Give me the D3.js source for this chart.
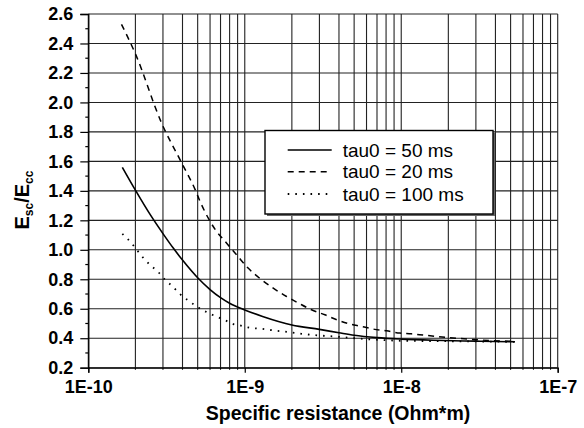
<!DOCTYPE html>
<html>
<head>
<meta charset="utf-8">
<script src="https://cdn.jsdelivr.net/npm/d3@7"></script>
<style>
  html, body { margin: 0; padding: 0; background: #fff; }
  svg { display: block; font-family: "Liberation Sans", Arial, Helvetica, sans-serif; }
</style>
</head>
<body>
<svg id="chart" width="584" height="428"></svg>
<script>
// Specific resistance (Ohm*m) sampled along each curve
const resist50 = [1.65e-10, 2.0e-10, 2.5e-10, 3.0e-10, 3.5e-10, 4.0e-10, 5.0e-10, 6.0e-10, 7.0e-10, 8.0e-10, 1.0e-9, 1.3e-9, 2.0e-9, 3.0e-9, 4.0e-9, 5.0e-9, 7.0e-9, 1.0e-8, 1.6e-8, 3.0e-8, 5.33e-8];
const ratio50  = [1.56, 1.405, 1.235, 1.11, 1.01, 0.93, 0.81, 0.73, 0.675, 0.637, 0.592, 0.548, 0.49, 0.46, 0.437, 0.42, 0.404, 0.394, 0.386, 0.38, 0.376];

const resist20 = [1.63e-10, 2.0e-10, 2.94e-10, 3.95e-10, 4.81e-10, 5.17e-10, 6.45e-10, 7.66e-10, 8.87e-10, 1.05e-9, 1.28e-9, 1.52e-9, 1.85e-9, 2.2e-9, 2.67e-9, 3.25e-9, 3.87e-9, 4.7e-9, 5.58e-9, 6.63e-9, 8.07e-9, 9.8e-9, 1.16e-8, 1.42e-8, 2.0e-8, 3.0e-8, 5.33e-8];
const ratio20  = [2.53, 2.33, 1.86, 1.59, 1.41, 1.33, 1.14, 1.045, 0.966, 0.876, 0.797, 0.74, 0.683, 0.639, 0.593, 0.559, 0.525, 0.496, 0.48, 0.462, 0.45, 0.435, 0.43, 0.42, 0.405, 0.39, 0.378];

const resist100 = [1.65e-10, 1.85e-10, 2.04e-10, 2.25e-10, 2.48e-10, 2.8e-10, 3.09e-10, 3.46e-10, 3.85e-10, 4.29e-10, 4.86e-10, 5.43e-10, 6.0e-10, 6.71e-10, 7.55e-10, 8.45e-10, 9.31e-10, 1.05e-9, 1.28e-9, 1.52e-9, 1.9e-9, 2.31e-9, 2.95e-9, 3.5e-9, 6.01e-9, 9.8e-9, 1.45e-8, 3.0e-8, 5.33e-8];
const ratio100  = [1.108, 1.056, 1.0, 0.944, 0.898, 0.849, 0.797, 0.751, 0.70, 0.661, 0.62, 0.589, 0.566, 0.544, 0.52, 0.496, 0.487, 0.473, 0.464, 0.453, 0.442, 0.43, 0.419, 0.414, 0.394, 0.383, 0.381, 0.378, 0.375];

const seriesLabels = ["tau0 = 50 ms", "tau0 = 20 ms", "tau0 = 100 ms"];
const xTickValues = [1e-10, 1e-9, 1e-8, 1e-7];
const xTickLabels = ["1E-10", "1E-9", "1E-8", "1E-7"];
const yTickValues = [0.2, 0.4, 0.6, 0.8, 1.0, 1.2, 1.4, 1.6, 1.8, 2.0, 2.2, 2.4, 2.6];

const svg = d3.select("#chart");
const plotL = 88.3, plotR = 557.7, plotT = 14, plotB = 367.7;

const x = d3.scaleLog().domain([1e-10, 1e-7]).range([plotL, plotR]);
const y = d3.scaleLinear().domain([0.2, 2.6]).range([plotB, plotT]);

// minor x positions: 2..9 in every decade
const xMinor = [];
for (let e = -10; e < -7; e++) for (let m = 2; m <= 9; m++) xMinor.push(m * Math.pow(10, e));

const grid = svg.append("g").attr("stroke", "#222").attr("stroke-width", 1.1);
// horizontal grid
grid.selectAll("line.h").data(yTickValues).join("line").attr("class", "h")
  .attr("x1", plotL).attr("x2", plotR)
  .attr("y1", d => y(d)).attr("y2", d => y(d));
// vertical grid (minor + decades)
grid.selectAll("line.v").data(xMinor.concat(xTickValues)).join("line").attr("class", "v")
  .attr("y1", plotT).attr("y2", plotB)
  .attr("x1", d => x(d)).attr("x2", d => x(d));

// Y axis
const yAxis = d3.axisLeft(y).tickValues(yTickValues).tickSize(8).tickPadding(7)
  .tickFormat(d3.format(".1f"));
const gy = svg.append("g").attr("transform", `translate(${plotL},0)`).call(yAxis);
gy.select(".domain").attr("stroke", "#000").attr("stroke-width", 1.3);
gy.selectAll(".tick line").attr("stroke", "#000").attr("stroke-width", 1.2);
gy.selectAll(".tick text").attr("font-size", 18).attr("font-weight", "bold").attr("fill", "#000")
  .attr("font-family", "'Liberation Sans', Arial, sans-serif");
// Y minor ticks
const yMinor = d3.range(0.3, 2.6, 0.2);
svg.append("g").selectAll("line").data(yMinor).join("line")
  .attr("x1", plotL - 3).attr("x2", plotL)
  .attr("y1", d => y(d)).attr("y2", d => y(d))
  .attr("stroke", "#000").attr("stroke-width", 1.2);

// X axis
const xAxis = d3.axisBottom(x).tickValues(xTickValues).tickSize(5).tickPadding(8)
  .tickFormat((d, i) => xTickLabels[i]);
const gx = svg.append("g").attr("transform", `translate(0,${plotB})`).call(xAxis);
gx.select(".domain").attr("stroke", "#000").attr("stroke-width", 1.3);
gx.selectAll(".tick line").attr("stroke", "#000").attr("stroke-width", 1.2);
gx.selectAll(".tick text").attr("font-size", 18).attr("font-weight", "bold").attr("fill", "#000")
  .attr("font-family", "'Liberation Sans', Arial, sans-serif");
svg.append("g").selectAll("line").data(xMinor).join("line")
  .attr("x1", d => x(d)).attr("x2", d => x(d))
  .attr("y1", plotB).attr("y2", plotB + 2)
  .attr("stroke", "#000").attr("stroke-width", 1.1);

// Curves
const line = d3.line().x(d => x(d[0])).y(d => y(d[1])).curve(d3.curveMonotoneX);
const curves = [
  { xs: resist50, ys: ratio50, dash: null, width: 1.6 },
  { xs: resist20, ys: ratio20, dash: "6,5", width: 1.5 },
  { xs: resist100, ys: ratio100, dash: "1.6,6", width: 1.8 }
];
curves.forEach(c => {
  svg.append("path")
    .datum(d3.zip(c.xs, c.ys))
    .attr("d", line)
    .attr("fill", "none")
    .attr("stroke", "#000")
    .attr("stroke-width", c.width)
    .attr("stroke-dasharray", c.dash);
});

// Legend
const lg = svg.append("g");
lg.append("rect").attr("x", 267).attr("y", 133).attr("width", 228).attr("height", 83).attr("fill", "#666");
lg.append("rect").attr("x", 265).attr("y", 130.5).attr("width", 228).attr("height", 83.5)
  .attr("fill", "#fff").attr("stroke", "#000").attr("stroke-width", 1.4);
const rowsY = [150, 171.7, 194];
curves.forEach((c, i) => {
  lg.append("line").attr("x1", 287.7).attr("x2", 331.7).attr("y1", rowsY[i]).attr("y2", rowsY[i])
    .attr("stroke", "#000").attr("stroke-width", c.width).attr("stroke-dasharray", c.dash);
  lg.append("text").attr("x", 342.7).attr("y", rowsY[i] + 6.5)
    .attr("font-size", 19).attr("fill", "#000").text(seriesLabels[i]);
});

// Axis titles
svg.append("text").attr("x", 338).attr("y", 420).attr("text-anchor", "middle")
  .attr("font-size", 19.5).attr("font-weight", "bold").text("Specific resistance (Ohm*m)");

const yt = svg.append("text").attr("transform", "translate(29,200) rotate(-90)")
  .attr("text-anchor", "middle").attr("font-size", 20).attr("font-weight", "bold");
yt.append("tspan").text("E");
yt.append("tspan").attr("font-size", 12).attr("dy", 4).text("sc");
yt.append("tspan").attr("dy", -4).text("/E");
yt.append("tspan").attr("font-size", 12).attr("dy", 4).text("cc");
</script>
</body>
</html>
